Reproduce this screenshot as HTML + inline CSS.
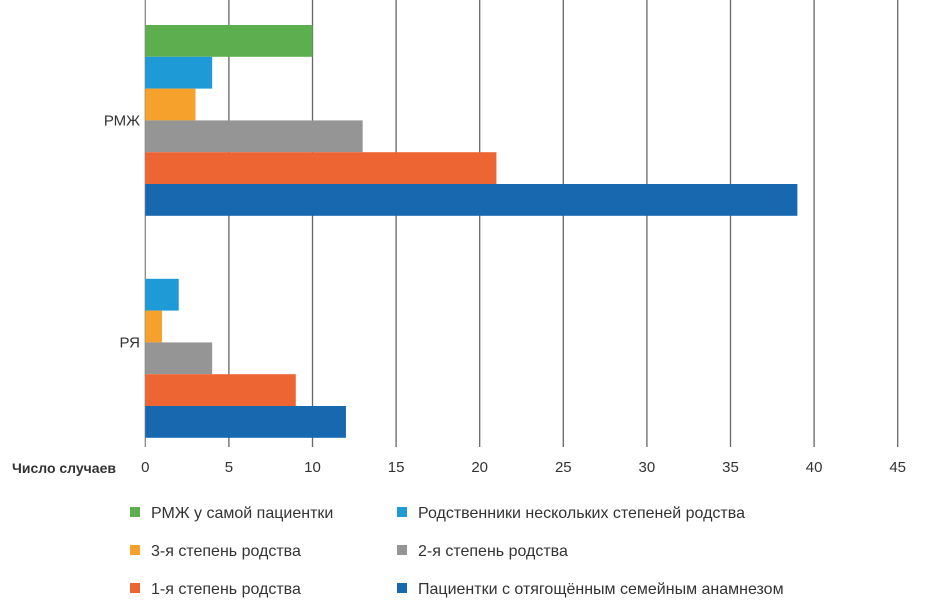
<!DOCTYPE html>
<html><head><meta charset="utf-8"><style>
body{margin:0;background:#fff;font-family:"Liberation Sans",sans-serif;}
svg text{font-family:"Liberation Sans",sans-serif;fill:#333;}
</style></head><body>
<svg id="c" width="926" height="600"></svg>
<script>
const categories=["РМЖ","РЯ"];
const seriesNames=["РМЖ у самой пациентки","Родственники нескольких степеней родства","3-я степень родства","2-я степень родства","1-я степень родства","Пациентки с отягощённым семейным анамнезом"];
const colors=["#5cae4f","#1e9ad6","#f5a12b","#959595","#ee6534","#1868b0"];
const rmjValues=[10,4,3,13,21,39];
const ryaValues=[0,2,1,4,9,12];
const ticks=[0,5,10,15,20,25,30,35,40,45];
const values=[rmjValues,ryaValues];
const NS="http://www.w3.org/2000/svg";
const svg=document.getElementById('c');
const x0=145.3,ppu=16.72;
const xs=v=>x0+v*ppu;
const groupTop=[25,247],barH=31.8;
function mk(t,a){const e=document.createElementNS(NS,t);for(const k in a)e.setAttribute(k,a[k]);svg.appendChild(e);return e;}
ticks.forEach(t=>{
 const l=mk('line',{x1:xs(t),x2:xs(t),y1:0,y2:447,stroke:t===0?'#888':'#666','stroke-width':1.3});
 
 
 const tx=mk('text',{x:xs(t),y:472,'text-anchor':'middle','font-size':15});
 tx.textContent=t;
 
 
});
categories.forEach((c,gi)=>{
 values[gi].forEach((v,si)=>{
  if(v<=0)return;
  const r=mk('rect',{x:x0,y:groupTop[gi]+si*barH,width:v*ppu,height:barH,fill:colors[si]});
  
  
 });
 const t=mk('text',{x:140,y:groupTop[gi]+3*barH+5,'text-anchor':'end','font-size':15});
 t.textContent=c;
 
 
});
const at=mk('text',{x:12,y:473,'font-size':14,'font-weight':'bold','fill':'#111'});
at.textContent="Число случаев";


seriesNames.forEach((n,i)=>{
 const col=i%2,row=Math.floor(i/2);
 const lx=col?397:130,ly=512+row*38;
 const r=mk('rect',{x:lx,y:ly-5,width:10,height:10,fill:colors[i]});
 
 
 const t=mk('text',{x:lx+21,y:ly+6,'font-size':16});
 t.textContent=n;
 
 
});
</script>
</body></html>
